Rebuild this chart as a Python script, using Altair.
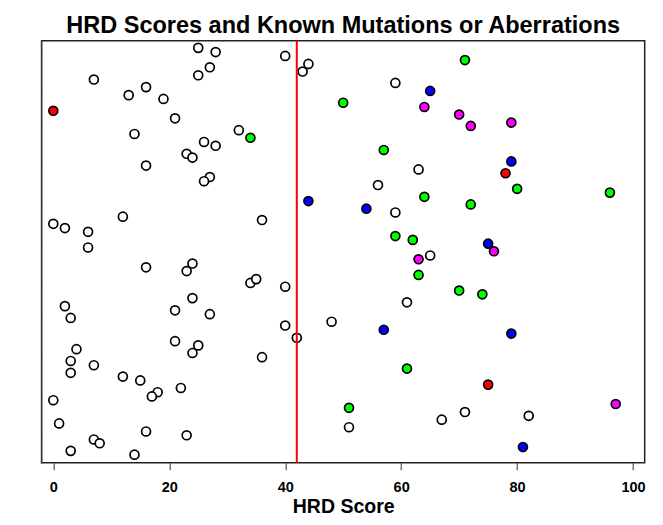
import altair as alt
import pandas as pd

# ---- data (HRD score, vertical jitter 0-100) ----
none_x = [25, 28, 27, 25, 7, 16, 13, 19, 21, 32, 14, 26, 28, 23, 24, 16, 27, 26, 12, 0,
          2, 6, 6, 40, 44, 43, 59, 63, 56, 59, 36, 65, 16, 24, 23, 2, 3, 24, 21, 27,
          21, 25, 24, 4, 3, 7, 3, 12, 15, 18, 17, 22, 0, 1, 16, 23, 7, 8, 3, 14,
          34, 35, 40, 61, 40, 42, 48, 36, 51, 67, 71, 82]
none_y = [98.3, 97.3, 93.7, 91.8, 90.8, 89.0, 87.1, 86.2, 81.6, 78.8, 77.9, 76.0, 75.1, 73.2, 72.3, 70.4, 67.7, 66.7, 58.3, 56.6,
          55.6, 54.7, 51.0, 96.4, 94.5, 92.7, 90.0, 69.5, 65.8, 59.3, 57.5, 49.1, 46.3, 47.2, 45.4, 37.1, 34.3, 39.0, 36.1, 35.2,
          28.8, 27.8, 26.0, 26.9, 24.1, 23.1, 21.3, 20.4, 19.5, 16.7, 15.7, 17.7, 14.8, 9.3, 7.4, 6.5, 5.5, 4.6, 2.8, 1.9,
          42.6, 43.5, 41.7, 38.0, 32.5, 29.6, 33.4, 25.0, 8.4, 10.2, 12.0, 11.1]

red_x = [0, 78, 75]
red_y = [83.4, 68.6, 18.5]

blue_x = [65, 44, 54, 79, 75, 57, 79, 81]
blue_y = [88.1, 62.0, 60.2, 71.4, 51.9, 31.5, 30.6, 3.7]

green_x = [50, 34, 57, 64, 59, 62, 71, 80, 96, 72, 63, 61, 51, 70, 74]
green_y = [85.3, 77.0, 74.1, 63.0, 53.7, 52.8, 95.4, 64.9, 64.0, 61.2, 44.5, 22.3, 13.0, 40.8, 39.9]

magenta_x = [64, 70, 72, 79, 76, 63, 97]
magenta_y = [84.3, 82.5, 79.8, 80.6, 50.1, 48.2, 13.9]

groups = ["None", "Group 1", "Group 2", "Group 3", "Group 4"]
group_colors = ["#FFFFFF", "#FF0000", "#0000FF", "#00FF00", "#FF00FF"]
threshold = [42]
x_ticks = [0, 20, 40, 60, 80, 100]

rows = []
for g, xs, ys in zip(groups,
                     [none_x, red_x, blue_x, green_x, magenta_x],
                     [none_y, red_y, blue_y, green_y, magenta_y]):
    for a, b in zip(xs, ys):
        rows.append({"HRD": a, "jitter": b, "group": g})
df = pd.DataFrame(rows)
thr = pd.DataFrame({"HRD": threshold})

FONT = "Liberation Sans"
y_tick_vals = [i * 0.5 for i in range(201)]

x_enc = alt.X("HRD:Q",
              scale=alt.Scale(domain=[-2, 102], nice=False, zero=False),
              axis=alt.Axis(values=x_ticks, title="HRD Score", domain=False, grid=False,
                            tickSize=7, tickColor="#333333", tickWidth=1,
                            labelFont=FONT, labelFontSize=14.5, labelFontWeight="bold",
                            labelColor="black", labelPadding=11,
                            titleFont=FONT, titleFontSize=19.5, titleFontWeight="bold",
                            titleColor="black", titleBaseline="alphabetic", titleY=50))

points = alt.Chart(df).mark_point(filled=True, shape="circle", size=80, stroke="black",
                                  strokeWidth=1.7, opacity=1).encode(
    x=x_enc,
    y=alt.Y("jitter:Q", scale=alt.Scale(domain=[0, 100], nice=False, zero=False),
            axis=alt.Axis(values=y_tick_vals, labels=False, title=None, domain=False,
                          grid=False, tickSize=2, tickColor="#666666", tickWidth=0.6)),
    fill=alt.Fill("group:N", scale=alt.Scale(domain=groups, range=group_colors), legend=None),
)

rule = alt.Chart(thr).mark_rule(color="#FF0000", strokeWidth=2).encode(x="HRD:Q")

chart = alt.layer(points, rule).properties(
    width=603,
    height=422,
    title=alt.TitleParams("HRD Scores and Known Mutations or Aberrations",
                          font=FONT, fontSize=23.5, fontWeight="bold", color="black",
                          anchor="middle", offset=2),
    autosize=alt.AutoSizeParams(type="none"),
    padding={"left": 33.7, "top": 32.7, "right": 10, "bottom": 54},
    background="white",
).configure_view(stroke="#222222", strokeWidth=1.5)

chart.save("out.html", embed_options={"renderer": "svg", "actions": False})
